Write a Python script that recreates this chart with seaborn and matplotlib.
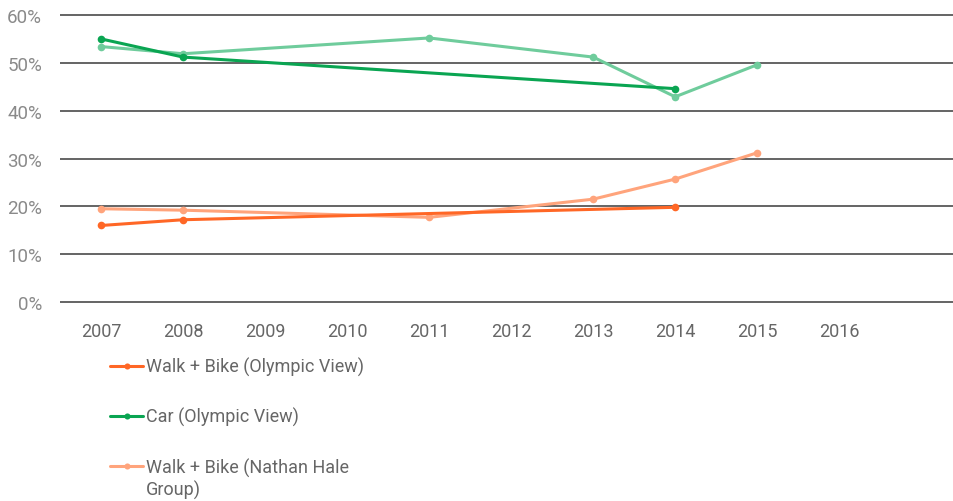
import numpy as np
import pandas as pd
import matplotlib.pyplot as plt
import seaborn as sns

# values (percent)
years = [2007, 2008, 2009, 2010, 2011, 2012, 2013, 2014, 2015, 2016]

walk_ov_years = [2007, 2008, 2014]
walk_ov = [16.0, 17.2, 19.8]

car_ov_years = [2007, 2008, 2014]
car_ov = [55.0, 51.2, 44.6]

walk_nh_years = [2007, 2008, 2011, 2013, 2014, 2015]
walk_nh = [19.5, 19.2, 17.7, 21.5, 25.7, 31.2]

car_nh_years = [2007, 2008, 2011, 2013, 2014, 2015]
car_nh = [53.4, 51.9, 55.2, 51.2, 42.9, 49.6]

y_ticks = [0, 10, 20, 30, 40, 50, 60]


def series_frame(name, xs, ys):
    return pd.DataFrame({"year": xs, "share": ys, "series": name})


sns.set_theme(style="white")
plt.rcParams["font.family"] = ["Roboto", "DejaVu Sans"]

fig = plt.figure(figsize=(9.54, 5.02), dpi=100)
ax = fig.add_axes([0.063, 0.3916, 0.937, 0.5813])

# (label, years, values, colour) -- light ones first so the dark lines sit on top
series = [
    ("_Car (Nathan Hale Group)", car_nh_years, car_nh, "#6fcc9c"),
    ("Walk + Bike (Nathan Hale", walk_nh_years, walk_nh, "#ffa47c"),
    ("Car (Olympic View)", car_ov_years, car_ov, "#0aa552"),
    ("Walk + Bike (Olympic View)", walk_ov_years, walk_ov, "#ff6726"),
]

for label, xs, ys, colour in series:
    df = series_frame(label, xs, ys)
    sns.lineplot(data=df, x="year", y="share", ax=ax, color=colour, label=label,
                 marker="o", markersize=5.5, markeredgewidth=0, linewidth=2.2,
                 legend=False)

for t in y_ticks:
    ax.axhline(t, color="#4a4a4a", linewidth=1.2, zorder=0)

ax.set_xlim(2006.5, 2017.4)
ax.set_ylim(-0.5, 60.5)
ax.set_xticks(years)
ax.set_xticklabels([str(y) for y in years])
ax.set_yticks(y_ticks)
ax.set_yticklabels([f"{t}%" for t in y_ticks])
ax.tick_params(axis="x", length=0, pad=13, labelsize=13, labelcolor="#666666")
ax.tick_params(axis="y", length=0, pad=13, labelsize=13.5, labelcolor="#8a8a8a")
ax.set_xlabel("")
ax.set_ylabel("")
ax.grid(False)
for side in ax.spines.values():
    side.set_visible(False)

handles, labels = ax.get_legend_handles_labels()
order = ["Walk + Bike (Olympic View)", "Car (Olympic View)", "Walk + Bike (Nathan Hale"]
hmap = dict(zip(labels, handles))
leg = fig.legend([hmap[l] for l in order], order, loc="upper left",
                 bbox_to_anchor=(0.1153, 0.2868), frameon=False, fontsize=13,
                 labelspacing=1.72, handlelength=1.83, handletextpad=0.17,
                 borderpad=0, borderaxespad=0, markerscale=0.8)
for txt in leg.get_texts():
    txt.set_color("#666666")

# the wrapped second line of the last legend label
fig.canvas.draw()
bb = leg.get_texts()[-1].get_window_extent()
fig.text(bb.x0 / fig.bbox.width, (bb.y0 - 22) / fig.bbox.height, "Group)",
         fontsize=13, color="#666666", ha="left", va="bottom")

fig.savefig("out.png", dpi=100)
